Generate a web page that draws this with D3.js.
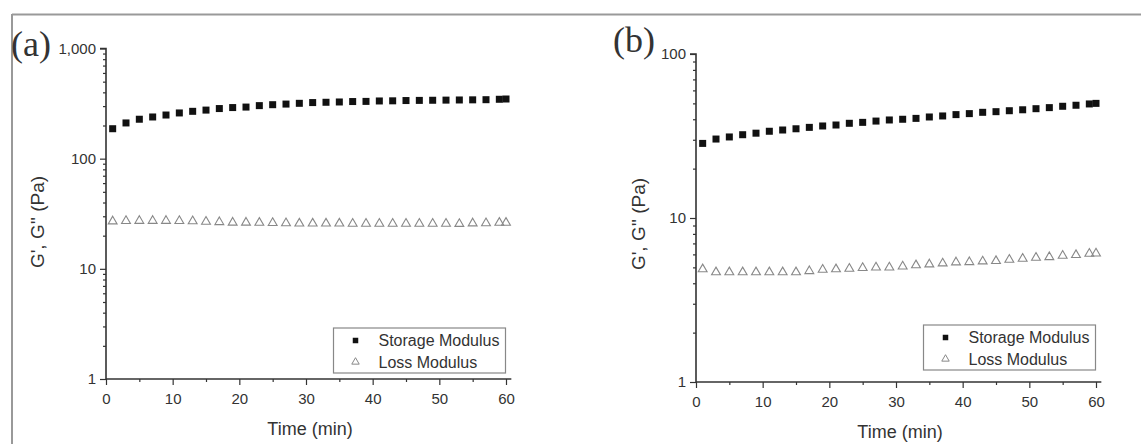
<!DOCTYPE html>
<html>
<head>
<meta charset="utf-8">
<script src="https://cdn.jsdelivr.net/npm/d3@7"></script>
<style>
  html, body { margin: 0; padding: 0; background: #fff; }
  svg { display: block; }
  text { font-family: "Liberation Sans", Arial, sans-serif; fill: #333; }
</style>
</head>
<body>
<svg id="chart" width="1141" height="444"></svg>
<script>
// ---- Data ----
const timeMin = [1,3,5,7,9,11,13,15,17,19,21,23,25,27,29,31,33,35,37,39,41,43,45,47,49,51,53,55,57,59,60];

const storageA = [187,211,228,239,249,260,269,276,285,291,294,303,309,313,318,323,325,327,330,331,334,335,337,338,339,340,341,342,343,346,348];
const lossA    = [27.0,27.2,27.3,27.3,27.3,27.2,27.1,26.8,26.6,26.3,26.3,26.2,26.1,26.0,25.8,25.8,25.8,25.8,25.7,25.7,25.7,25.7,25.7,25.7,25.7,25.7,25.6,25.9,26.0,26.2,26.2];

const storageB = [28.5,30.3,31.2,32.2,32.9,33.8,34.4,35.0,35.7,36.4,36.9,37.8,38.3,39.0,39.6,40.0,40.5,41.3,41.9,42.7,43.3,44.1,44.5,45.1,45.7,46.4,47.1,48.0,48.7,49.6,50.0];
const lossB    = [4.87,4.67,4.67,4.67,4.67,4.67,4.67,4.67,4.75,4.84,4.87,4.91,4.96,5.0,5.0,5.07,5.15,5.22,5.29,5.37,5.39,5.44,5.47,5.57,5.65,5.73,5.78,5.89,5.95,6.06,6.08];

const xTicks = [0,10,20,30,40,50,60];
const xMinorTicks = [5,15,25,35,45,55];
const yTicksA = [1,10,100,1000];
const yTicksB = [1,10,100];
const yTickLabelsA = ["1","10","100","1,000"];
const yTickLabelsB = ["1","10","100"];
const seriesNames = ["Storage Modulus","Loss Modulus"];
const panelLabels = ["(a)","(b)"];
const xTitle = "Time (min)";
const yTitle = "G', G'' (Pa)";

// ---- Drawing ----
const svg = d3.select("#chart");

// figure frame (top and left)
svg.append("line").attr("x1",12).attr("x2",1141).attr("y1",14.5).attr("y2",14.5)
  .attr("stroke","#999").attr("stroke-width",2);
svg.append("line").attr("x1",12).attr("x2",12).attr("y1",14).attr("y2",444)
  .attr("stroke","#999").attr("stroke-width",2);

const axisColor = "#333";

function panel(cfg) {
  const g = svg.append("g");
  const x = d3.scaleLinear().domain([0, 60]).range([cfg.x0, cfg.x0 + 400]);
  const y = d3.scaleLog().domain([1, cfg.yMax]).range([cfg.yBottom, cfg.yTop]);
  const xEnd = x(60.8);

  // minor ticks y
  const minor = [];
  for (let d = 1; d < cfg.yMax; d *= 10) for (let k = 2; k <= 9; k++) minor.push(d * k);

  // y axis
  const yAxisMinor = d3.axisLeft(y).tickValues(minor).tickSize(3).tickFormat("");
  const gyMin = g.append("g").attr("transform", `translate(${cfg.x0},0)`).call(yAxisMinor);
  const yAxis = d3.axisLeft(y).tickValues(cfg.yTicks).tickSize(6).tickPadding(4)
    .tickFormat((d,i) => cfg.yLabels[i]);
  const gy = g.append("g").attr("transform", `translate(${cfg.x0},0)`).call(yAxis);

  // x axis
  const xs = d3.scaleLinear().domain([0, 60.8]).range([cfg.x0, xEnd]);
  const xAxisMinor = d3.axisBottom(xs).tickValues(xMinorTicks).tickSize(3).tickFormat("");
  const gxMin = g.append("g").attr("transform", `translate(0,${cfg.yBottom})`).call(xAxisMinor);
  const xAxis = d3.axisBottom(xs).tickValues(xTicks).tickSize(6).tickPadding(8);
  const gx = g.append("g").attr("transform", `translate(0,${cfg.yBottom})`).call(xAxis);

  [gy, gyMin, gx, gxMin].forEach(a => {
    a.selectAll(".domain").attr("stroke", axisColor).attr("stroke-width", 1.6);
    a.selectAll(".tick line").attr("stroke", axisColor).attr("stroke-width", 1.2);
    a.selectAll("text").attr("fill", "#3a3a3a").style("font-size", "15px")
      .style("font-family", '"Liberation Sans", Arial, sans-serif');
  });
  gy.select(".domain").attr("d", `M-6,${cfg.yTop}H0V${cfg.yBottom}`);
  gyMin.select(".domain").remove();
  gx.select(".domain").attr("d", `M${cfg.x0},0H${xEnd}`);
  gxMin.select(".domain").remove();

  // data: loss (triangles)
  const tri = d3.symbol().type(d3.symbolTriangle).size(34);
  g.append("g").selectAll("path").data(timeMin.map((t,i)=>[t,cfg.loss[i]])).join("path")
    .attr("d", tri)
    .attr("transform", d => `translate(${x(d[0])},${y(d[1])})`)
    .attr("fill", "none").attr("stroke", "#888").attr("stroke-width", 1.1);

  // data: storage (squares)
  const sq = 7;
  g.append("g").selectAll("rect").data(timeMin.map((t,i)=>[t,cfg.storage[i]])).join("rect")
    .attr("x", d => x(d[0]) - sq/2).attr("y", d => y(d[1]) - sq/2)
    .attr("width", sq).attr("height", sq).attr("fill", "#111");

  // axis titles
  g.append("text").attr("x", x(30) + 4).attr("y", cfg.yBottom + 56)
    .attr("text-anchor","middle").style("font-size","18px").text(xTitle);
  g.append("text")
    .attr("transform", `translate(${cfg.yTitleX},${cfg.yTitleY}) rotate(-90)`)
    .attr("text-anchor","middle").attr("dy","0.35em").style("font-size","19px").text(yTitle);

  // panel label
  svg.append("text").attr("x", cfg.labX).attr("y", cfg.labY)
    .style("font-family", '"Liberation Serif", "Times New Roman", serif')
    .style("font-size", "36px").attr("fill","#222").text(cfg.label);

  // legend
  const lr = x(60) - 0.5, lw = 172, lt = cfg.legTop, lh = 45;
  const lg = g.append("g");
  lg.append("rect").attr("x", lr - lw).attr("y", lt).attr("width", lw).attr("height", lh)
    .attr("fill","#fff").attr("stroke","#888").attr("stroke-width",1.2);
  const row1 = lt + 12.5, row2 = lt + 34;
  const sx = lr - lw + 22;
  lg.append("rect").attr("x", sx - 2.75).attr("y", row1 - 2.75).attr("width",5.5).attr("height",5.5).attr("fill","#111");
  lg.append("path").attr("d", d3.symbol().type(d3.symbolTriangle).size(24))
    .attr("transform", `translate(${sx},${row2})`).attr("fill","none").attr("stroke","#888");
  lg.append("text").attr("x", sx + 23).attr("y", row1).attr("dy","0.35em").style("font-size","16px").text(seriesNames[0]);
  lg.append("text").attr("x", sx + 23).attr("y", row2).attr("dy","0.35em").style("font-size","16px").text(seriesNames[1]);
}

panel({ x0:106, yBottom:379, yTop:48.5, yMax:1000, yTicks:yTicksA, yLabels:yTickLabelsA,
  storage:storageA, loss:lossA, yTitleX:37, yTitleY:222, label:panelLabels[0], labX:11, labY:56, legTop:328 });
panel({ x0:696, yBottom:382, yTop:54, yMax:100, yTicks:yTicksB, yLabels:yTickLabelsB,
  storage:storageB, loss:lossB, yTitleX:638, yTitleY:224, label:panelLabels[1], labX:613, labY:52, legTop:325 });
</script>
</body>
</html>
